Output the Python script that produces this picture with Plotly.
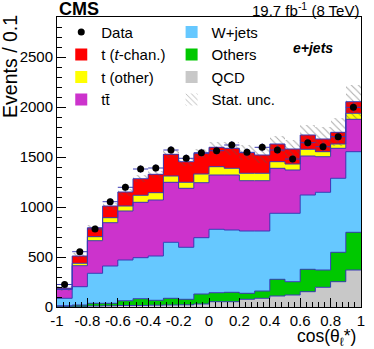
import numpy as np
import plotly.graph_objects as go

# bin edges of cos(theta_l*) histogram (20 bins)
edges = [-1.0, -0.9, -0.8, -0.7, -0.6, -0.5, -0.4, -0.3, -0.2, -0.1, 0.0,
         0.1, 0.2, 0.3, 0.4, 0.5, 0.6, 0.7, 0.8, 0.9, 1.0]
centers = [-0.95, -0.85, -0.75, -0.65, -0.55, -0.45, -0.35, -0.25, -0.15, -0.05,
           0.05, 0.15, 0.25, 0.35, 0.45, 0.55, 0.65, 0.75, 0.85, 0.95]

# stacked components, bottom to top
qcd = [8, 8, 10, 12, 15, 15, 18, 20, 22, 30, 53, 53, 77, 87, 110, 120, 153, 197, 253, 370]
others = [4, 12, 27, 25, 48, 68, 49, 67, 55, 100, 90, 94, 60, 73, 167, 133, 224, 173, 294, 377]
wjets = [75, 183, 300, 373, 407, 410, 443, 560, 520, 563, 634, 623, 623, 600, 660, 684, 743, 777, 740, 806]
ttbar = [88, 210, 326, 433, 490, 554, 560, 600, 590, 550, 543, 550, 503, 503, 450, 433, 390, 356, 300, 324]
t_other = [5, 24, 40, 50, 50, 70, 73, 63, 60, 87, 83, 67, 74, 74, 66, 60, 67, 50, 43, 60]
t_chan = [8, 73, 90, 117, 140, 166, 184, 217, 206, 207, 194, 200, 206, 183, 177, 150, 143, 127, 117, 116]

stat_unc = [25, 30, 30, 35, 35, 35, 38, 40, 40, 45, 56, 66, 77, 83, 83, 90, 100, 120, 140, 170]

data = [225, 553, 780, 1053, 1197, 1380, 1390, 1570, 1487, 1543,
        1563, 1620, 1547, 1597, 1570, 1480, 1643, 1603, 1703, 1997]
data_err = [15, 24, 28, 32, 35, 37, 37, 40, 39, 39, 40, 40, 39, 40, 40, 38, 41, 40, 41, 45]

x_ticks = [-1, -0.8, -0.6, -0.4, -0.2, 0, 0.2, 0.4, 0.6, 0.8, 1]
x_tick_text = ['-1', '-0.8', '-0.6', '-0.4', '-0.2', '0', '0.2', '0.4', '0.6', '0.8', '1']

outline = '#3b3bb5'
font = 'Liberation Sans, Arial, sans-serif'

components = [
    ('QCD', qcd, '#c8c8c8', 'legend2', 3),
    ('Others', others, '#00c800', 'legend2', 2),
    ('W+jets', wjets, '#66c8ff', 'legend2', 1),
    ('tt\u0304', ttbar, '#cc33cc', 'legend', 4),
    ('t (other)', t_other, '#ffff00', 'legend', 3),
    ('t (<i>t</i>-chan.)', t_chan, '#ff0000', 'legend', 2),
]


def steps(vals):
    return list(vals) + [vals[-1]]


fig = go.Figure()

base = np.zeros(len(centers))
tops = []
for name, vals, col, leg, rank in components:
    fig.add_trace(go.Bar(x=centers, y=vals, base=base, width=0.1,
                         marker=dict(color=col, line=dict(width=0)),
                         name=name, legend=leg, legendrank=rank))
    base = base + np.array(vals)
    tops.append(base)

total = base
lo = total - np.array(stat_unc)
fig.add_trace(go.Bar(x=centers, y=[2 * u for u in stat_unc], base=lo, width=0.1,
                     marker=dict(color='rgba(0,0,0,0)', line=dict(width=0),
                                 pattern=dict(shape='\\', fgcolor='#555555', bgcolor='rgba(0,0,0,0)',
                                              size=5, solidity=0.2)),
                     name='Stat. unc.', legend='legend2', legendrank=4))

# histogram outlines
for t in tops:
    fig.add_trace(go.Scatter(x=edges, y=steps(t), mode='lines', line_shape='hv',
                             line=dict(color=outline, width=1), showlegend=False, hoverinfo='skip'))

fig.add_trace(go.Scatter(x=centers, y=data, mode='markers', name='Data',
                         marker=dict(color='black', size=7),
                         error_y=dict(type='data', array=data_err, color=outline, thickness=1, width=0),
                         error_x=dict(type='constant', value=0.05, color=outline, thickness=1, width=0),
                         legend='legend', legendrank=1))

fig.update_layout(
    width=374, height=349,
    margin=dict(l=57, r=13, t=17, b=42),
    paper_bgcolor='white', plot_bgcolor='white',
    barmode='overlay', bargap=0,
    font=dict(family=font, size=15, color='black'),
    legend=dict(x=0.014, y=1.004, xanchor='left', yanchor='top', bgcolor='rgba(0,0,0,0)',
                font=dict(size=15), tracegroupgap=0, itemwidth=30, traceorder='normal'),
    legend2=dict(x=0.377, y=1.004, xanchor='left', yanchor='top', bgcolor='rgba(0,0,0,0)',
                 font=dict(size=15), tracegroupgap=0, itemwidth=30, traceorder='normal'),
)

fig.update_xaxes(range=[-1, 1], tickvals=x_ticks, ticktext=x_tick_text, automargin=False,
                 ticks='inside', ticklen=9, tickcolor='black', showline=True, linecolor='black',
                 linewidth=1, mirror=True, showgrid=False, zeroline=False,
                 tickfont=dict(size=15),
                 minor=dict(dtick=0.04, tick0=-1, ticks='inside', ticklen=5, tickcolor='black'))
fig.update_yaxes(range=[0, 2900], dtick=500, ticks='inside', ticklen=9, tickcolor='black',
                 showline=True, linecolor='black', linewidth=1, mirror=True, automargin=False,
                 showgrid=False, zeroline=False, tickfont=dict(size=15),
                 minor=dict(dtick=100, ticks='inside', ticklen=5, tickcolor='black'))

fig.add_annotation(text='<b>CMS</b>', xref='paper', yref='paper', x=0, y=1.0,
                   xanchor='left', yanchor='bottom', showarrow=False, font=dict(size=18), yshift=-4)
fig.add_annotation(text='19.7 fb<sup>-1</sup> (8 TeV)', xref='paper', yref='paper', x=1, y=1.0,
                   xanchor='right', yanchor='bottom', showarrow=False, font=dict(size=15), yshift=-4)
fig.add_annotation(text='<b><i>e+jets</i></b>', xref='paper', yref='paper', x=0.914, y=0.893,
                   xanchor='right', yanchor='middle', showarrow=False, font=dict(size=14))
fig.add_annotation(text='Events / 0.1', xref='paper', yref='paper', x=-0.155, y=0.831,
                   xanchor='center', yanchor='middle', textangle=-90, showarrow=False,
                   font=dict(size=19.5))
fig.add_annotation(text='cos(\u03b8<sub>\u2113</sub>*)', xref='paper', yref='paper', x=0.99, y=-0.058,
                   xanchor='right', yanchor='top', showarrow=False, font=dict(size=17.5))

# the default page body has an 8px margin; drop it so the figure fills the window
fig.write_html('out.html', config={'displayModeBar': False},
               post_script="document.body.style.margin = '0';")
